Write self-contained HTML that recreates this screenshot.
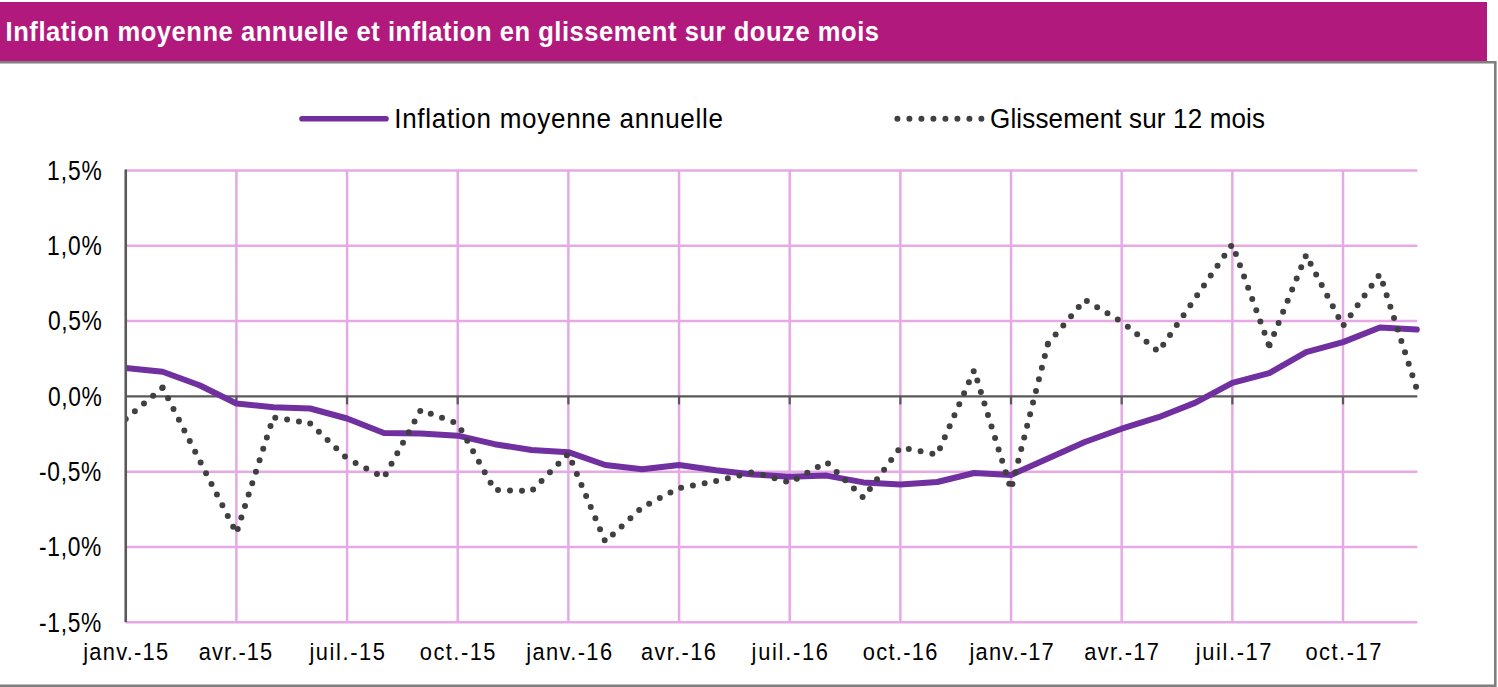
<!DOCTYPE html>
<html><head><meta charset="utf-8"><style>
html,body{margin:0;padding:0;background:#fff;}
body{width:1498px;height:687px;overflow:hidden;font-family:"Liberation Sans",sans-serif;}
svg{display:block;}
</style></head><body>
<svg width="1498" height="687" viewBox="0 0 1498 687">
<defs><clipPath id="pc"><rect x="125" y="0" width="1400" height="687"/></clipPath></defs>
<rect x="0" y="2" width="1487" height="59.5" fill="#B2197D"/>
<path d="M0 62.2 H1495.3 V685.8 H0" fill="none" stroke="#7f7f7f" stroke-width="2.6"/>
<text x="6.02" y="41" transform="scale(0.93,1)" font-family="Liberation Sans" font-weight="bold" font-size="27.5" fill="#fff" textLength="939.17" lengthAdjust="spacing">Inflation moyenne annuelle et inflation en glissement sur douze mois</text>
<line x1="125.74" y1="170.50" x2="1417.3" y2="170.50" stroke="#E6A9E6" stroke-width="2.5"/>
<line x1="125.74" y1="245.80" x2="1417.3" y2="245.80" stroke="#E6A9E6" stroke-width="2.5"/>
<line x1="125.74" y1="321.10" x2="1417.3" y2="321.10" stroke="#E6A9E6" stroke-width="2.5"/>
<line x1="125.74" y1="471.70" x2="1417.3" y2="471.70" stroke="#E6A9E6" stroke-width="2.5"/>
<line x1="125.74" y1="547.00" x2="1417.3" y2="547.00" stroke="#E6A9E6" stroke-width="2.5"/>
<line x1="125.74" y1="622.30" x2="1417.3" y2="622.30" stroke="#E6A9E6" stroke-width="2.5"/>
<line x1="236.40" y1="170.50" x2="236.40" y2="622.30" stroke="#E6A9E6" stroke-width="2.5"/>
<line x1="347.06" y1="170.50" x2="347.06" y2="622.30" stroke="#E6A9E6" stroke-width="2.5"/>
<line x1="457.72" y1="170.50" x2="457.72" y2="622.30" stroke="#E6A9E6" stroke-width="2.5"/>
<line x1="568.38" y1="170.50" x2="568.38" y2="622.30" stroke="#E6A9E6" stroke-width="2.5"/>
<line x1="679.05" y1="170.50" x2="679.05" y2="622.30" stroke="#E6A9E6" stroke-width="2.5"/>
<line x1="789.71" y1="170.50" x2="789.71" y2="622.30" stroke="#E6A9E6" stroke-width="2.5"/>
<line x1="900.37" y1="170.50" x2="900.37" y2="622.30" stroke="#E6A9E6" stroke-width="2.5"/>
<line x1="1011.03" y1="170.50" x2="1011.03" y2="622.30" stroke="#E6A9E6" stroke-width="2.5"/>
<line x1="1121.69" y1="170.50" x2="1121.69" y2="622.30" stroke="#E6A9E6" stroke-width="2.5"/>
<line x1="1232.35" y1="170.50" x2="1232.35" y2="622.30" stroke="#E6A9E6" stroke-width="2.5"/>
<line x1="1343.01" y1="170.50" x2="1343.01" y2="622.30" stroke="#E6A9E6" stroke-width="2.5"/>
<line x1="125.74" y1="396.4" x2="1417.3" y2="396.4" stroke="#595959" stroke-width="2.4"/>
<line x1="236.40" y1="396.4" x2="236.40" y2="404.40" stroke="#595959" stroke-width="2.2"/>
<line x1="347.06" y1="396.4" x2="347.06" y2="404.40" stroke="#595959" stroke-width="2.2"/>
<line x1="457.72" y1="396.4" x2="457.72" y2="404.40" stroke="#595959" stroke-width="2.2"/>
<line x1="568.38" y1="396.4" x2="568.38" y2="404.40" stroke="#595959" stroke-width="2.2"/>
<line x1="679.05" y1="396.4" x2="679.05" y2="404.40" stroke="#595959" stroke-width="2.2"/>
<line x1="789.71" y1="396.4" x2="789.71" y2="404.40" stroke="#595959" stroke-width="2.2"/>
<line x1="900.37" y1="396.4" x2="900.37" y2="404.40" stroke="#595959" stroke-width="2.2"/>
<line x1="1011.03" y1="396.4" x2="1011.03" y2="404.40" stroke="#595959" stroke-width="2.2"/>
<line x1="1121.69" y1="396.4" x2="1121.69" y2="404.40" stroke="#595959" stroke-width="2.2"/>
<line x1="1232.35" y1="396.4" x2="1232.35" y2="404.40" stroke="#595959" stroke-width="2.2"/>
<line x1="1343.01" y1="396.4" x2="1343.01" y2="404.40" stroke="#595959" stroke-width="2.2"/>
<text x="58.75" y="179.9" transform="scale(0.8,1)" font-family="Liberation Sans" font-weight="normal" font-size="28.5" fill="#000" textLength="68.59" lengthAdjust="spacing">1,5%</text>
<text x="58.75" y="255.2" transform="scale(0.8,1)" font-family="Liberation Sans" font-weight="normal" font-size="28.5" fill="#000" textLength="68.59" lengthAdjust="spacing">1,0%</text>
<text x="60.00" y="330.5" transform="scale(0.8,1)" font-family="Liberation Sans" font-weight="normal" font-size="28.5" fill="#000" textLength="67.34" lengthAdjust="spacing">0,5%</text>
<text x="60.00" y="405.8" transform="scale(0.8,1)" font-family="Liberation Sans" font-weight="normal" font-size="28.5" fill="#000" textLength="67.34" lengthAdjust="spacing">0,0%</text>
<text x="48.75" y="481.1" transform="scale(0.8,1)" font-family="Liberation Sans" font-weight="normal" font-size="28.5" fill="#000" textLength="77.94" lengthAdjust="spacing">-0,5%</text>
<text x="48.75" y="556.4" transform="scale(0.8,1)" font-family="Liberation Sans" font-weight="normal" font-size="28.5" fill="#000" textLength="77.94" lengthAdjust="spacing">-1,0%</text>
<text x="48.75" y="631.7" transform="scale(0.8,1)" font-family="Liberation Sans" font-weight="normal" font-size="28.5" fill="#000" textLength="77.94" lengthAdjust="spacing">-1,5%</text>
<text x="89.46" y="660" transform="scale(0.93,1)" font-family="Liberation Sans" font-weight="normal" font-size="23.5" fill="#000" textLength="91.37" lengthAdjust="spacing">janv.-15</text>
<text x="213.76" y="660" transform="scale(0.93,1)" font-family="Liberation Sans" font-weight="normal" font-size="23.5" fill="#000" textLength="78.97" lengthAdjust="spacing">avr.-15</text>
<text x="332.69" y="660" transform="scale(0.93,1)" font-family="Liberation Sans" font-weight="normal" font-size="23.5" fill="#000" textLength="81.22" lengthAdjust="spacing">juil.-15</text>
<text x="451.40" y="660" transform="scale(0.93,1)" font-family="Liberation Sans" font-weight="normal" font-size="23.5" fill="#000" textLength="81.34" lengthAdjust="spacing">oct.-15</text>
<text x="565.81" y="660" transform="scale(0.93,1)" font-family="Liberation Sans" font-weight="normal" font-size="23.5" fill="#000" textLength="92.34" lengthAdjust="spacing">janv.-16</text>
<text x="689.25" y="660" transform="scale(0.93,1)" font-family="Liberation Sans" font-weight="normal" font-size="23.5" fill="#000" textLength="80.48" lengthAdjust="spacing">avr.-16</text>
<text x="808.17" y="660" transform="scale(0.93,1)" font-family="Liberation Sans" font-weight="normal" font-size="23.5" fill="#000" textLength="82.08" lengthAdjust="spacing">juil.-16</text>
<text x="927.74" y="660" transform="scale(0.93,1)" font-family="Liberation Sans" font-weight="normal" font-size="23.5" fill="#000" textLength="80.26" lengthAdjust="spacing">oct.-16</text>
<text x="1042.58" y="660" transform="scale(0.93,1)" font-family="Liberation Sans" font-weight="normal" font-size="23.5" fill="#000" textLength="90.51" lengthAdjust="spacing">janv.-17</text>
<text x="1165.81" y="660" transform="scale(0.93,1)" font-family="Liberation Sans" font-weight="normal" font-size="23.5" fill="#000" textLength="80.37" lengthAdjust="spacing">avr.-17</text>
<text x="1285.81" y="660" transform="scale(0.93,1)" font-family="Liberation Sans" font-weight="normal" font-size="23.5" fill="#000" textLength="81.33" lengthAdjust="spacing">juil.-17</text>
<text x="1403.66" y="660" transform="scale(0.93,1)" font-family="Liberation Sans" font-weight="normal" font-size="23.5" fill="#000" textLength="81.66" lengthAdjust="spacing">oct.-17</text>
<polyline points="125.74,368.00 162.63,371.80 199.51,385.30 236.40,403.50 273.29,407.20 310.18,408.50 347.06,418.50 383.95,433.00 420.84,433.40 457.72,435.70 494.61,444.20 531.50,450.00 568.38,452.20 605.27,465.00 642.16,469.20 679.05,465.00 715.93,470.20 752.82,474.40 789.71,476.70 826.59,475.60 863.48,482.40 900.37,484.50 937.25,482.00 974.14,473.00 1011.03,475.00 1047.91,458.40 1084.80,442.00 1121.69,428.70 1158.58,417.20 1195.46,402.60 1232.35,382.80 1269.24,373.20 1306.12,352.20 1343.01,342.10 1379.90,327.50 1416.79,329.50" fill="none" stroke="#7030A0" stroke-width="6" stroke-linejoin="round" stroke-linecap="round" clip-path="url(#pc)"/>
<g fill="none" stroke="#404040" stroke-width="6" stroke-linecap="round" stroke-dasharray="0 12" clip-path="url(#pc)"><path d="M125.74 419.10L162.63 387.60" stroke-dashoffset="0.00"/><path d="M162.63 387.60L199.51 460.30" stroke-dashoffset="0.00"/><path d="M199.51 460.30L236.40 533.00" stroke-dashoffset="9.52"/><path d="M236.40 533.00L273.29 417.30" stroke-dashoffset="7.70"/><path d="M273.29 417.30L310.18 423.50" stroke-dashoffset="10.00"/><path d="M310.18 423.50L347.06 458.60" stroke-dashoffset="0.00"/><path d="M347.06 458.60L383.95 477.60" stroke-dashoffset="2.40"/><path d="M383.95 477.60L420.84 410.00" stroke-dashoffset="8.20"/><path d="M420.84 410.00L457.72 423.70" stroke-dashoffset="1.40"/><path d="M457.72 423.70L494.61 490.00" stroke-dashoffset="4.40"/><path d="M494.61 490.00L531.50 491.10" stroke-dashoffset="8.60"/><path d="M531.50 491.10L568.38 453.70" stroke-dashoffset="9.70"/><path d="M568.38 453.70L605.27 541.70" stroke-dashoffset="2.10"/><path d="M605.27 541.70L642.16 507.30" stroke-dashoffset="1.60"/><path d="M642.16 507.30L679.05 488.10" stroke-dashoffset="4.10"/><path d="M679.05 488.10L715.93 481.00" stroke-dashoffset="9.90"/><path d="M715.93 481.00L752.82 472.20" stroke-dashoffset="11.80"/><path d="M752.82 472.20L789.71 482.60" stroke-dashoffset="1.40"/><path d="M789.71 482.60L826.59 462.20" stroke-dashoffset="3.90"/><path d="M826.59 462.20L863.48 497.80" stroke-dashoffset="10.00"/><path d="M863.48 497.80L900.37 447.40" stroke-dashoffset="1.10"/><path d="M900.37 447.40L937.25 454.60" stroke-dashoffset="3.40"/><path d="M937.25 454.60L974.14 370.30" stroke-dashoffset="5.10"/><path d="M974.14 370.30L1011.03 489.50" stroke-dashoffset="1.20"/><path d="M1011.03 489.50L1047.91 343.80" stroke-dashoffset="6.30"/><path d="M1047.91 343.80L1084.80 299.80" stroke-dashoffset="0.00"/><path d="M1084.80 299.80L1121.69 321.80" stroke-dashoffset="9.60"/><path d="M1121.69 321.80L1158.58 351.60" stroke-dashoffset="4.10"/><path d="M1158.58 351.60L1195.46 297.85" stroke-dashoffset="3.80"/><path d="M1195.46 297.85L1232.35 244.10" stroke-dashoffset="8.99"/><path d="M1232.35 244.10L1269.24 346.00" stroke-dashoffset="1.60"/><path d="M1269.24 346.00L1306.12 255.20" stroke-dashoffset="11.10"/><path d="M1306.12 255.20L1343.01 325.90" stroke-dashoffset="2.30"/><path d="M1343.01 325.90L1379.90 274.10" stroke-dashoffset="10.80"/><path d="M1379.90 274.10L1416.79 389.00" stroke-dashoffset="1.80"/></g>
<line x1="125.74" y1="169.50" x2="125.74" y2="622.30" stroke="#595959" stroke-width="2.6"/>
<line x1="302" y1="118.7" x2="386" y2="118.7" stroke="#7030A0" stroke-width="5.6" stroke-linecap="round"/>
<text x="423.87" y="128" transform="scale(0.93,1)" font-family="Liberation Sans" font-weight="normal" font-size="28" fill="#000" textLength="353.53" lengthAdjust="spacing">Inflation moyenne annuelle</text>
<line x1="897.4" y1="118.7" x2="982" y2="118.7" stroke="#404040" stroke-width="6" stroke-linecap="round" stroke-dasharray="0 12"/>
<text x="1064.52" y="128" transform="scale(0.93,1)" font-family="Liberation Sans" font-weight="normal" font-size="28" fill="#000" textLength="295.75" lengthAdjust="spacing">Glissement sur 12 mois</text>
</svg>
</body></html>
